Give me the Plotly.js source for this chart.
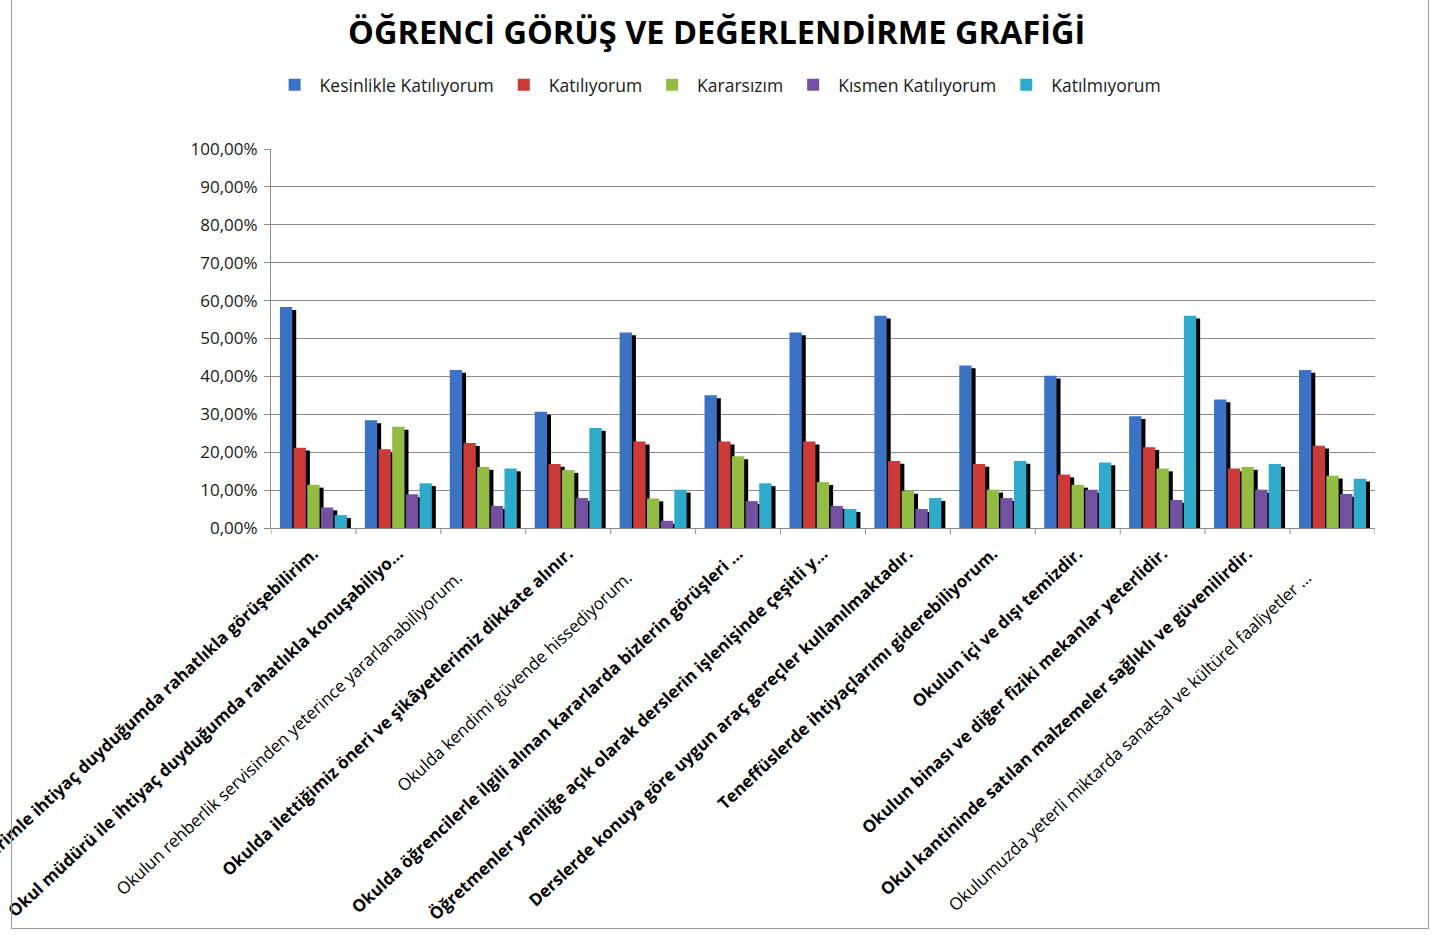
<!DOCTYPE html>
<html>
<head>
<meta charset="utf-8">
<script src="https://cdn.plot.ly/plotly-3.0.1.min.js"></script>
<style>
  html, body { margin: 0; padding: 0; background: #ffffff; overflow: hidden; }
  #chart { width: 1442px; height: 936px; position: absolute; left: 0; top: 0; }
  #frame { position: absolute; left: 11px; top: -1px; width: 1416px; height: 928px; border: 1px solid #9a9a9a; pointer-events: none; }
</style>
</head>
<body>
<div id="chart"></div>
<div id="frame"></div>
<script>
// ---- Data ----
const categories = [
  "Öğretmenlerimle ihtiyaç duyduğumda rahatlıkla görüşebilirim.",
  "Okul müdürü ile ihtiyaç duyduğumda rahatlıkla konuşabiliyo...",
  "Okulun rehberlik servisinden yeterince yararlanabiliyorum.",
  "Okulda ilettiğimiz öneri ve şikâyetlerimiz dikkate alınır.",
  "Okulda kendimi güvende hissediyorum.",
  "Okulda öğrencilerle ilgili alınan kararlarda bizlerin görüşleri …",
  "Öğretmenler yeniliğe açık olarak derslerin işlenişinde çeşitli y...",
  "Derslerde konuya göre uygun araç gereçler kullanılmaktadır.",
  "Teneffüslerde ihtiyaçlarımı giderebiliyorum.",
  "Okulun içi ve dışı temizdir.",
  "Okulun binası ve diğer fiziki mekanlar yeterlidir.",
  "Okul kantininde satılan malzemeler sağlıklı ve güvenilirdir.",
  "Okulumuzda yeterli miktarda sanatsal ve kültürel faaliyetler …"
];
const boldLabel = [true, true, false, true, false, true, true, true, true, true, true, true, false];

const seriesNames = ["Kesinlikle Katılıyorum", "Katılıyorum", "Kararsızım", "Kısmen Katılıyorum", "Katılmıyorum"];
const kesinlikleKatiliyorum = [58.3, 28.4, 41.7, 30.7, 51.6, 35.0, 51.6, 56.0, 42.9, 40.2, 29.5, 33.9, 41.7];
const katiliyorum          = [21.2, 20.8, 22.4, 16.9, 22.8, 22.8, 22.8, 17.7, 16.9, 14.1, 21.3, 15.7, 21.7];
const kararsizim           = [11.4, 26.7, 16.1, 15.3,  7.8, 18.9, 12.1,  9.8, 10.1, 11.4, 15.7, 16.1, 13.8];
const kismenKatiliyorum    = [ 5.4,  8.9,  5.8,  7.9,  1.9,  7.1,  5.8,  5.0,  7.9, 10.1,  7.4, 10.1,  9.0];
const katilmiyorum         = [ 3.4, 11.8, 15.7, 26.4, 10.1, 11.8,  5.0,  7.9, 17.7, 17.3, 56.0, 16.9, 13.0];
const yTicks = [0, 10, 20, 30, 40, 50, 60, 70, 80, 90, 100];

// ---- Styles ----
const seriesValues = [kesinlikleKatiliyorum, katiliyorum, kararsizim, kismenKatiliyorum, katilmiyorum];
const seriesColors = ["#3b72c3", "#c93a38", "#93bc45", "#7451a0", "#2eaacb"];
const FONT = "'Open Sans', 'Noto Sans', sans-serif";

const slot = 0.161, barW = 0.145, firstOff = -0.395, shadowDx = 0.047, shadowDy = -0.75;
const xIdx = categories.map((_, i) => i);
const regularPad = "\u00A0".repeat(8);

const traces = [];
seriesValues.forEach((vals, s) => {
  traces.push({
    type: "bar", x: xIdx, y: vals, base: shadowDy,
    offset: firstOff + s * slot + shadowDx, width: barW,
    marker: { color: "#000000", line: { width: 0 } },
    showlegend: false, hoverinfo: "skip"
  });
  traces.push({
    type: "bar", x: xIdx, y: vals, name: seriesNames[s],
    offset: firstOff + s * slot, width: barW,
    marker: { color: seriesColors[s], line: { width: 0 } }
  });
});

const layout = {
  width: 1442, height: 936,
  margin: { l: 271, r: 67, t: 149, b: 408 },
  paper_bgcolor: "#ffffff", plot_bgcolor: "#ffffff",
  barmode: "overlay",
  font: { family: FONT, color: "#1a1a1a", size: 16 },
  title: {
    text: "<b>ÖĞRENCİ GÖRÜŞ VE DEĞERLENDİRME GRAFİĞİ</b>",
    x: 0.497, xanchor: "center", y: 1 - 33 / 936, yanchor: "middle",
    font: { family: FONT, size: 32.5, color: "#000000" }
  },
  legend: {
    orientation: "h", x: 0.405, xanchor: "center", y: 1.169, yanchor: "middle",
    font: { family: FONT, size: 17.5, color: "#1a1a1a" },
    itemwidth: 40, traceorder: "normal", bgcolor: "rgba(0,0,0,0)"
  },
  xaxis: {
    type: "linear",
    range: [-0.5, categories.length - 0.5],
    tickmode: "array", tickvals: xIdx,
    ticktext: categories.map((c, i) => boldLabel[i] ? "<b>" + c + "</b>" : c + regularPad),
    tickangle: -43,
    ticks: "", showgrid: false, zeroline: false,
    showline: true, linecolor: "#8c8c8c", linewidth: 1,
    tickfont: { family: FONT, size: 17, color: "#000000" },
    ticklabeloverflow: "allow", ticklabelstandoff: 8,
    automargin: false
  },
  yaxis: {
    range: [0, 100], tickmode: "array", tickvals: yTicks,
    ticktext: yTicks.map(v => v.toFixed(2).replace(".", ",") + "%"),
    ticks: "outside", ticklen: 6, tickcolor: "#8c8c8c",
    showgrid: true, gridcolor: "#8c8c8c", gridwidth: 1,
    zeroline: false, showline: true, linecolor: "#8c8c8c", linewidth: 1,
    tickfont: { family: FONT, size: 17, color: "#1a1a1a" },
    ticklabelstandoff: 3,
    automargin: false
  },
  shapes: xIdx.concat([categories.length]).map(i => ({
    type: "line", xref: "x", yref: "paper",
    x0: i - 0.5, x1: i - 0.5, y0: 0, y1: -0.016,
    line: { color: "#8c8c8c", width: 1 }
  }))
};

Plotly.newPlot("chart", traces, layout, { displayModeBar: false, staticPlot: true });
</script>
</body>
</html>
